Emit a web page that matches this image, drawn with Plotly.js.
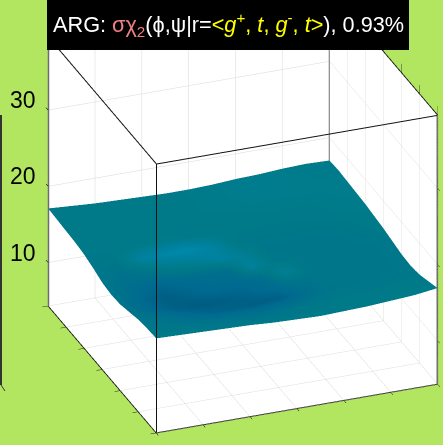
<!DOCTYPE html>
<html>
<head>
<meta charset="utf-8">
<script src="https://cdn.plot.ly/plotly-3.0.1.min.js"></script>
<style>
  html, body { margin: 0; padding: 0; background: #b2e660; overflow: hidden; }
  #chart { width: 443px; height: 445px; }
</style>
</head>
<body>
<div id="chart"></div>
<script>
// phi / psi 網格 (每 30 度一格)
const phiValues = [-180,-150,-120,-90,-60,-30,0,30,60,90,120,150,180];
const psiValues = [-180,-150,-120,-90,-60,-30,0,30,60,90,120,150,180];
const zTickValues = [10, 20, 30];
const angleTicks = [-180,-120,-60,0,60,120,180];
const zMin = 4.3;
const zMax = 39.6;

// 高度 (row = psi, col = phi)
const energyValues = [
  [16.7,16.6,16.5,16.4,16.3,16.1,16.0,15.9,16.0,16.1,16.3,16.5,16.9],
  [16.6,16.4,16.2,16.1,16.0,16.0,16.0,16.0,16.1,16.2,16.3,16.3,16.4],
  [16.4,16.1,15.8,15.6,15.6,15.8,16.0,16.1,16.2,16.2,16.1,16.0,15.9],
  [16.0,15.8,15.4,15.2,15.3,15.6,15.9,16.1,16.2,16.2,16.0,15.8,15.7],
  [15.6,15.6,15.4,15.2,15.3,15.6,15.9,16.1,16.2,16.2,16.0,15.9,15.8],
  [15.5,15.7,15.7,15.7,15.8,15.9,16.0,16.2,16.3,16.2,16.1,16.0,16.1],
  [15.7,16.0,16.1,16.2,16.2,16.2,16.2,16.3,16.4,16.3,16.2,16.2,16.4],
  [16.2,16.3,16.4,16.4,16.4,16.4,16.4,16.4,16.5,16.4,16.4,16.4,16.6],
  [16.6,16.6,16.6,16.6,16.6,16.5,16.5,16.5,16.6,16.6,16.5,16.6,16.8],
  [16.8,16.7,16.7,16.7,16.7,16.6,16.6,16.6,16.7,16.7,16.7,16.8,16.9],
  [16.9,16.8,16.8,16.8,16.7,16.6,16.6,16.7,16.8,16.8,16.9,17.0,17.0],
  [17.0,16.9,16.8,16.7,16.6,16.6,16.6,16.7,16.8,16.9,17.0,17.1,17.1],
  [17.1,16.9,16.7,16.6,16.5,16.4,16.4,16.5,16.7,16.8,17.0,17.1,17.0]
];

// 表面明暗 (0 深藍, 0.25 藍, 0.5 藍綠, 1 亮藍)
const shadeValues = [
  [.50,.50,.50,.50,.50,.50,.50,.50,.50,.50,.52,.54,.56],
  [.46,.44,.42,.40,.38,.38,.42,.46,.48,.48,.48,.50,.50],
  [.44,.38,.30,.22,.18,.14,.16,.30,.42,.44,.44,.46,.48],
  [.40,.26,.16,.12,.14,.20,.28,.38,.44,.44,.44,.44,.46],
  [.40,.24,.14,.20,.26,.26,.32,.66,.44,.44,.44,.44,.46],
  [.42,.30,.24,.28,.30,.32,.72,.46,.44,.44,.44,.44,.46],
  [.44,.36,.44,.56,.62,.74,.62,.44,.44,.44,.44,.46,.48],
  [.46,.44,.72,.84,.88,.76,.48,.46,.46,.46,.46,.48,.50],
  [.48,.48,.50,.52,.52,.50,.48,.48,.48,.48,.50,.52,.54],
  [.50,.50,.50,.50,.50,.50,.50,.50,.52,.52,.52,.54,.56],
  [.50,.50,.50,.50,.50,.50,.52,.54,.56,.56,.56,.56,.56],
  [.50,.50,.50,.50,.50,.50,.52,.54,.58,.58,.56,.54,.54],
  [.50,.50,.50,.50,.50,.50,.52,.54,.56,.56,.54,.52,.52]
];

const titleText = 'ARG: <span style="color:#f08080">σχ<sub>2</sub></span>(ϕ,ψ|r=' +
  '<span style="color:#ffff00">&lt;<i>g</i><sup>+</sup>, <i>t</i>, <i>g</i><sup>-</sup>, <i>t</i>&gt;</span>), 0.93%';

const labelFont = 'Arial, "Liberation Sans", sans-serif';

const axisBase = {
  showgrid: true,
  gridcolor: '#d8d8d8',
  gridwidth: 1,
  showbackground: true,
  backgroundcolor: '#ffffff',
  zeroline: false,
  showline: true,
  mirror: 'all',
  linecolor: '#111111',
  linewidth: 2,
  showspikes: false,
  title: { text: '' }
};

const surfaceTrace = {
  type: 'surface',
  x: phiValues,
  y: psiValues,
  z: energyValues,
  surfacecolor: shadeValues,
  cmin: 0,
  cmax: 1,
  colorscale: [[0, '#004f72'], [0.25, '#006a90'], [0.5, '#007a88'], [0.75, '#0082a0'], [1, '#0090b4']],
  showscale: false,
  hoverinfo: 'skip',
  lighting: { ambient: 1, diffuse: 0, specular: 0, roughness: 1, fresnel: 0 },
  contours: { x: { show: false }, y: { show: false }, z: { show: false } }
};

// 框線剛好落在範圍邊界會被裁掉，所以往內縮一點
const edgeLo = -179.4;
const edgeHi = 179.4;
const zLo = zMin + 0.06;
const zHi = zMax - 0.06;

// 前方的框線：plotly 的 mirror 不會畫在相機這一側
const frontFrame = {
  type: 'scatter3d',
  mode: 'lines',
  x: [edgeHi, edgeLo, edgeLo, null, edgeLo, edgeLo],
  y: [edgeLo, edgeLo, edgeHi, null, edgeLo, edgeLo],
  z: [zHi, zHi, zHi, null, zLo, zHi],
  line: { color: '#111111', width: 2 },
  hoverinfo: 'skip',
  showlegend: false
};

// 後方與兩側的垂直邊 (灰色)
const backEdges = {
  type: 'scatter3d',
  mode: 'lines',
  x: [edgeHi, edgeHi, null, edgeLo, edgeLo, null, edgeHi, edgeHi],
  y: [edgeHi, edgeHi, null, edgeHi, edgeHi, null, edgeLo, edgeLo],
  z: [zLo, zHi, null, zLo, zHi, null, zLo, zHi],
  line: { color: '#707070', width: 2 },
  hoverinfo: 'skip',
  showlegend: false
};

const zAnnotations = zTickValues.map(function (v) {
  return {
    x: -180, y: 180, z: v,
    text: String(v),
    showarrow: false,
    xanchor: 'right',
    yanchor: 'middle',
    xshift: -10,
    yshift: 10,
    font: { size: 23, color: '#000000', family: labelFont }
  };
});

// z 軸短刻度
const zTickMarks = zTickValues.map(function (v) {
  return {
    x: -180, y: 180, z: v,
    text: ' ',
    showarrow: true,
    arrowhead: 0,
    arrowwidth: 1,
    arrowcolor: '#333333',
    standoff: 0,
    ax: -5,
    ay: -6
  };
});

const layout = {
  width: 443,
  height: 445,
  margin: { l: 0, r: 0, t: 0, b: 0 },
  paper_bgcolor: '#b2e660',
  showlegend: false,
  font: { family: labelFont, color: '#000000' },
  scene: {
    domain: { x: [0, 1], y: [0, 1] },
    aspectmode: 'manual',
    aspectratio: { x: 1.355, y: 1.355, z: 1.355 },
    camera: {
      projection: { type: 'orthographic' },
      up: { x: 0, y: 0, z: 1 },
      center: { x: -0.0983, y: 0.0118, z: -0.0479 },
      eye: { x: -0.738, y: -1.654, z: 0.854 }
    },
    annotations: zAnnotations.concat(zTickMarks),
    xaxis: Object.assign({}, axisBase, {
      range: [-180, 180], tickvals: angleTicks, showticklabels: false, ticks: 'outside', ticklen: 6, tickcolor: '#111111'
    }),
    yaxis: Object.assign({}, axisBase, {
      range: [-180, 180], tickvals: angleTicks, showticklabels: false, ticks: 'outside', ticklen: 6, tickcolor: '#111111'
    }),
    zaxis: Object.assign({}, axisBase, {
      range: [zMin, zMax], tickvals: zTickValues, showticklabels: false, ticks: '',
      linecolor: '#666666'
    })
  },
  shapes: [
    { type: 'rect', xref: 'paper', yref: 'paper', x0: 47 / 443, x1: 409 / 443, y0: 1 - 50 / 445, y1: 1, fillcolor: '#000000', line: { width: 0 }, layer: 'above' },
    // 左側相鄰面板的殘邊
    { type: 'line', xref: 'paper', yref: 'paper', x0: 1 / 443, x1: 1 / 443, y0: 1 - 115 / 445, y1: 1 - 385 / 445, line: { color: '#333333', width: 2 } },
    { type: 'line', xref: 'paper', yref: 'paper', x0: 1 / 443, x1: 5 / 443, y0: 1 - 385 / 445, y1: 1 - 391 / 445, line: { color: '#333333', width: 1 } }
  ],
  annotations: [
    { xref: 'paper', yref: 'paper', x: 228 / 443, y: 1 - 24 / 445, xanchor: 'center', yanchor: 'middle', showarrow: false,
      text: titleText, font: { size: 21.7, color: '#ffffff', family: labelFont } }
  ]
};

Plotly.newPlot('chart', [surfaceTrace, backEdges, frontFrame], layout, { displayModeBar: false });
</script>
</body>
</html>
